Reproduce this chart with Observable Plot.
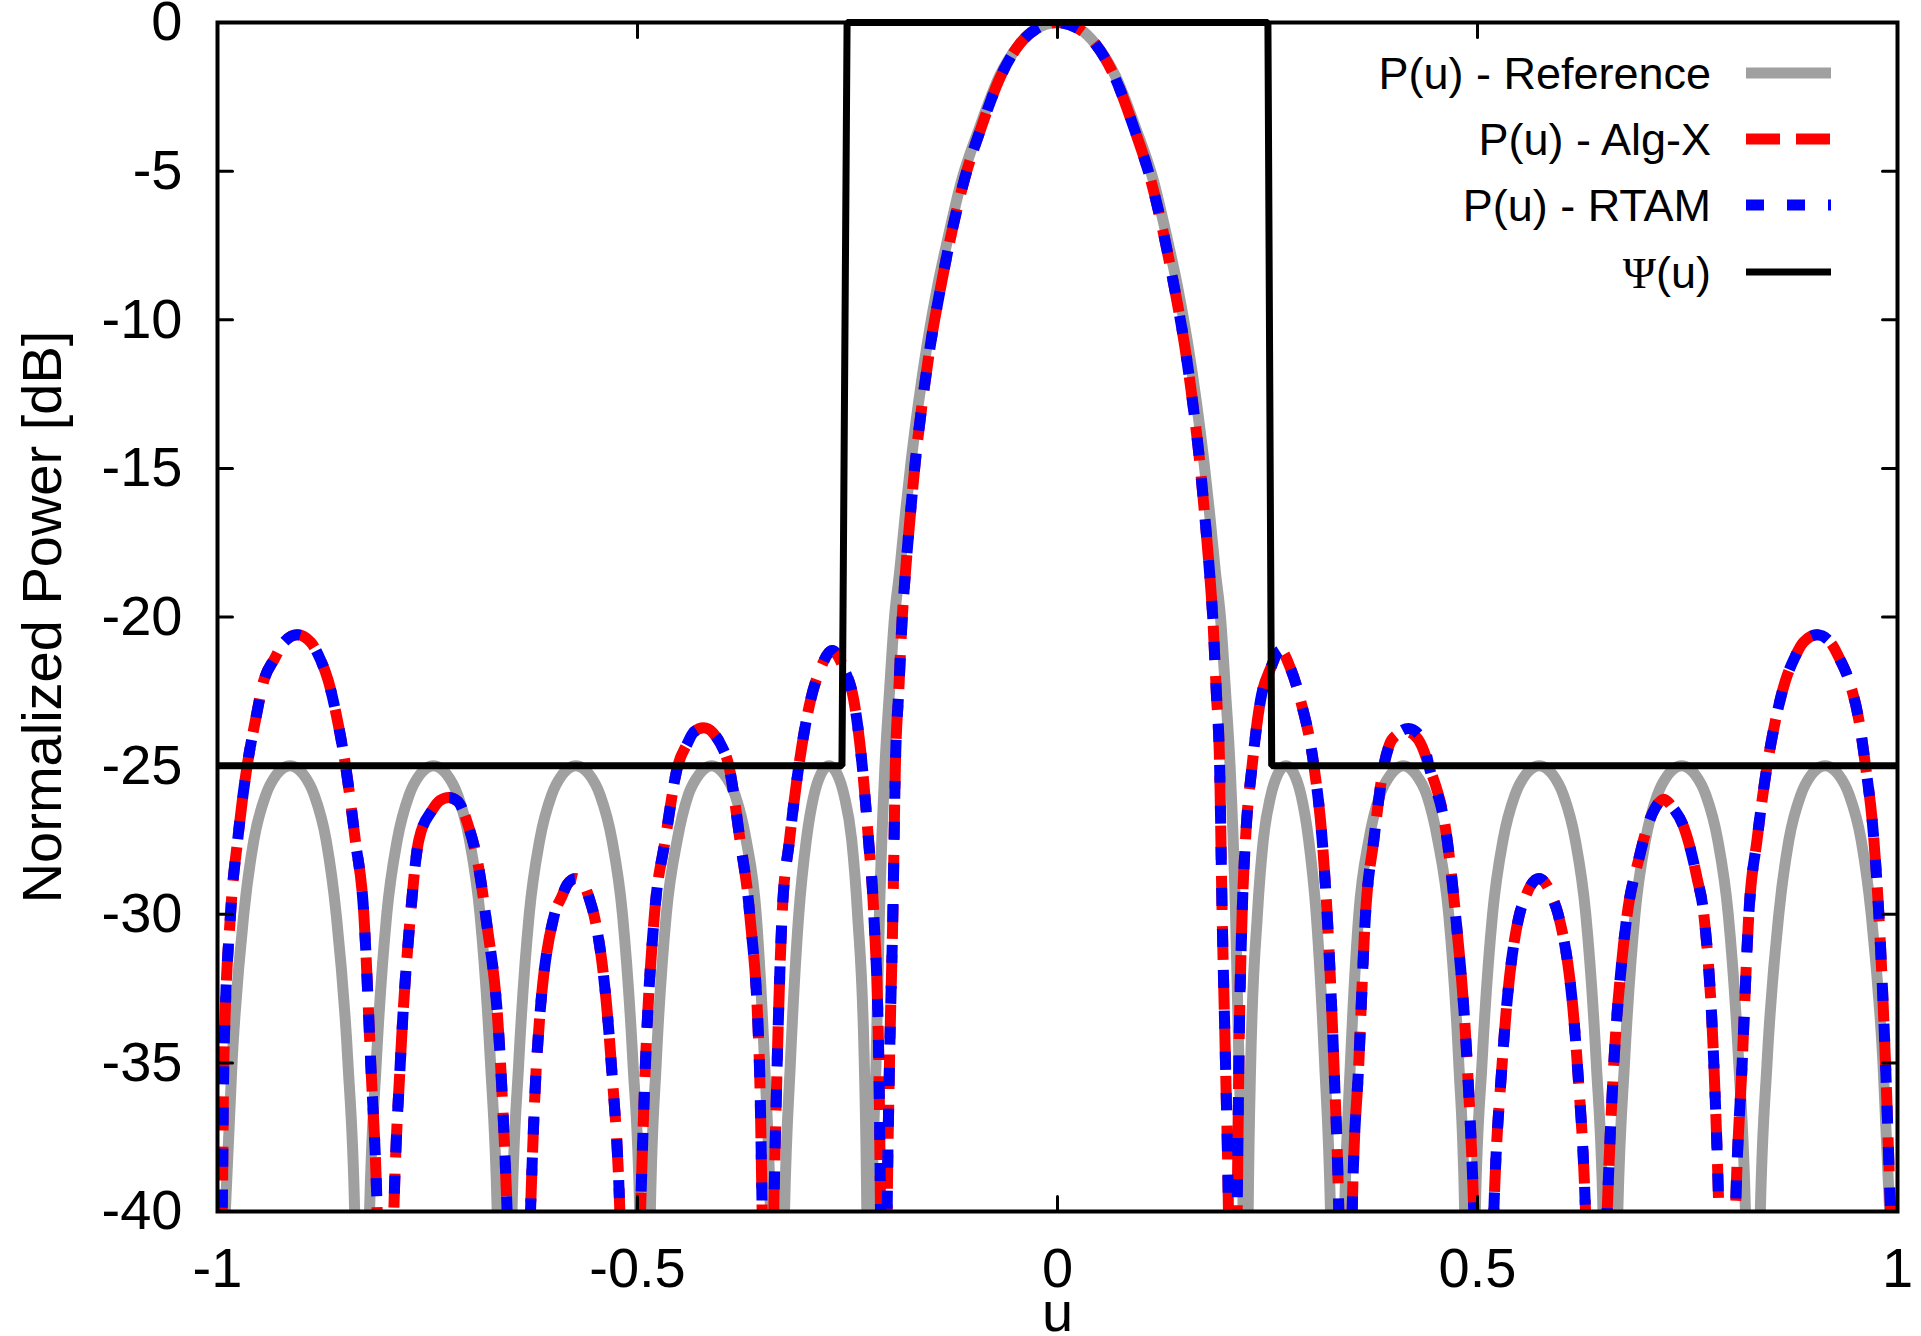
<!DOCTYPE html>
<html>
<head>
<meta charset="utf-8">
<script src="https://cdn.jsdelivr.net/npm/d3@7"></script>
<script src="https://cdn.jsdelivr.net/npm/@observablehq/plot@0.6"></script>
<style>
  html, body { margin: 0; padding: 0; background: #ffffff; }
  #chart svg { display: block; }
</style>
</head>
<body>
<div id="chart"></div>
<script>
// ---------- data ----------
const xTicks = [-1, -0.5, 0, 0.5, 1];
const yTicks = [0, -5, -10, -15, -20, -25, -30, -35, -40];

const legendLabels = ["P(u) - Reference", "P(u) - Alg-X", "P(u) - RTAM", "Ψ(u)"];

// P(u) - Reference (grey)
const refU = [
  -1.0000, -0.9907, -0.9827, -0.9687, -0.9567, -0.9427, -0.9297, -0.9137, -0.8977, -0.8847, -0.8707, -0.8587, -0.8447, -0.8367, -0.8280,
  -0.8190, -0.8110, -0.7985, -0.7860, -0.7720, -0.7590, -0.7430, -0.7270, -0.7140, -0.7000, -0.6875, -0.6750, -0.6670, -0.6580,
  -0.6494, -0.6414, -0.6289, -0.6164, -0.6024, -0.5894, -0.5734, -0.5574, -0.5444, -0.5304, -0.5179, -0.5054, -0.4974, -0.4910,
  -0.4847, -0.4777, -0.4657, -0.4527, -0.4397, -0.4267, -0.4117, -0.3967, -0.3837, -0.3707, -0.3587, -0.3487, -0.3417, -0.3330,
  -0.3250, -0.3180, -0.3080, -0.2990, -0.2900, -0.2820, -0.2720, -0.2620, -0.2540, -0.2450, -0.2380, -0.2300, -0.2270, -0.2235,
  -0.2210, -0.2160, -0.2120, -0.2054, -0.2000, -0.1940, -0.1880, -0.1810, -0.1740, -0.1655, -0.1550, -0.1430, -0.1300, -0.1140,
  -0.0930, -0.0690, -0.0460, -0.0270, 0.0000,
  0.0270, 0.0460, 0.0690, 0.0930, 0.1140, 0.1300, 0.1430, 0.1550, 0.1655, 0.1740, 0.1810, 0.1880, 0.1940, 0.2000,
  0.2054, 0.2120, 0.2160, 0.2210, 0.2235,
  0.2270, 0.2300, 0.2380, 0.2450, 0.2540, 0.2620, 0.2720, 0.2820, 0.2900, 0.2990, 0.3080, 0.3180, 0.3250, 0.3330,
  0.3417, 0.3487, 0.3587, 0.3707, 0.3837, 0.3967, 0.4117, 0.4267, 0.4397, 0.4527, 0.4657, 0.4777, 0.4847, 0.4910,
  0.4974, 0.5054, 0.5179, 0.5304, 0.5444, 0.5574, 0.5734, 0.5894, 0.6024, 0.6164, 0.6289, 0.6414, 0.6494, 0.6580,
  0.6670, 0.6750, 0.6875, 0.7000, 0.7140, 0.7270, 0.7430, 0.7590, 0.7720, 0.7860, 0.7985, 0.8110, 0.8190, 0.8280,
  0.8367, 0.8447, 0.8587, 0.8707, 0.8847, 0.8977, 0.9137, 0.9297, 0.9427, 0.9567, 0.9687, 0.9827, 0.9907, 1.0000
];
const refDb = [
  -47, -40, -35, -30, -27.5, -26, -25.3, -25, -25.3, -26, -27.5, -30, -35, -40, -55,
  -40, -35, -30, -27.5, -26, -25.3, -25, -25.3, -26, -27.5, -30, -35, -40, -55,
  -40, -35, -30, -27.5, -26, -25.3, -25, -25.3, -26, -27.5, -30, -35, -40, -55,
  -40, -35, -30, -27.5, -26, -25.3, -25, -25.3, -26, -27.5, -30, -35, -40, -55,
  -40, -35, -30, -27.5, -26, -25.3, -25, -25.3, -26, -27.5, -30, -35, -40, -55,
  -40, -35, -30, -25, -22.5, -20, -18.5, -16.5, -14.7, -12.8, -10.8, -8.9, -7.2, -5.3,
  -3.55, -1.8, -0.75, -0.23, 0,
  -0.23, -0.75, -1.8, -3.55, -5.3, -7.2, -8.9, -10.8, -12.8, -14.7, -16.5, -18.5, -20, -22.5,
  -25, -30, -35, -40, -55,
  -40, -35, -30, -27.5, -26, -25.3, -25, -25.3, -26, -27.5, -30, -35, -40, -55,
  -40, -35, -30, -27.5, -26, -25.3, -25, -25.3, -26, -27.5, -30, -35, -40, -55,
  -40, -35, -30, -27.5, -26, -25.3, -25, -25.3, -26, -27.5, -30, -35, -40, -55,
  -40, -35, -30, -27.5, -26, -25.3, -25, -25.3, -26, -27.5, -30, -35, -40, -55,
  -40, -35, -30, -27.5, -26, -25.3, -25, -25.3, -26, -27.5, -30, -35, -40, -47
];

// P(u) - Alg-X (red dashed)
const algxU = [
  -1.0000, -0.9944, -0.9925, -0.9845, -0.9760, -0.9647, -0.9548, -0.9448, -0.9320, -0.9210, -0.9050, -0.8890, -0.8780, -0.8683, -0.8573, -0.8476, -0.8360, -0.8258, -0.8176, -0.8099, -0.8000,
  -0.7901, -0.7824, -0.7702, -0.7603, -0.7444, -0.7350, -0.7246, -0.7140, -0.7028, -0.6869, -0.6810, -0.6631, -0.6552, -0.6410,
  -0.6274, -0.6202, -0.5988, -0.5900, -0.5837, -0.5738, -0.5630, -0.5560, -0.5520, -0.5313, -0.5210, -0.5090,
  -0.4964, -0.4905, -0.4798, -0.4670, -0.4520, -0.4409, -0.4329, -0.4210, -0.4100, -0.4012, -0.3913, -0.3780, -0.3664, -0.3549, -0.3516, -0.3446,
  -0.3377, -0.3337, -0.3278, -0.3190, -0.3079, -0.2940, -0.2821, -0.2683, -0.2544, -0.2425, -0.2325, -0.2250, -0.2187, -0.2127, -0.2107, -0.2067,
  -0.2028, -0.2000, -0.1960, -0.1930, -0.1890, -0.1850, -0.1810, -0.1750, -0.1690, -0.1610, -0.1510, -0.1390, -0.1270, -0.1110, -0.0910, -0.0675, -0.0450, -0.0260,
  0.0000,
  0.0260, 0.0450, 0.0675, 0.0910, 0.1110, 0.1270, 0.1390, 0.1510, 0.1610, 0.1690, 0.1750, 0.1810, 0.1850, 0.1890, 0.1930, 0.1960, 0.2000, 0.2035, 0.2085,
  0.2139, 0.2159, 0.2198, 0.2238, 0.2317, 0.2417, 0.2536, 0.2655, 0.2774, 0.2893, 0.3052, 0.3151, 0.3210, 0.3290, 0.3349, 0.3430,
  0.3508, 0.3587, 0.3667, 0.3766, 0.3885, 0.3950, 0.4030, 0.4140, 0.4250, 0.4330, 0.4421, 0.4639, 0.4738, 0.4877, 0.4956, 0.5075,
  0.5194, 0.5294, 0.5500, 0.5560, 0.5630, 0.5730, 0.5830, 0.5900, 0.5960, 0.6187, 0.6286, 0.6410,
  0.6544, 0.6623, 0.6722, 0.6782, 0.6921, 0.7020, 0.7120, 0.7218, 0.7320, 0.7456, 0.7615, 0.7694, 0.7813, 0.7873, 0.7970,
  0.8071, 0.8151, 0.8230, 0.8329, 0.8448, 0.8548, 0.8667, 0.8770, 0.8880, 0.9044, 0.9200, 0.9310, 0.9421, 0.9540, 0.9619, 0.9718, 0.9778, 0.9857, 0.9917, 1.0000
];
const algxDb = [
  -44, -40, -35, -30, -27.5, -25, -23.47, -22.13, -21.4, -20.85, -20.6, -20.85, -21.4, -22.13, -23.47, -25, -27.5, -30, -35, -40, -55,
  -40, -35, -30, -27.5, -26.5, -26.17, -26.07, -26.2, -26.9, -28.8, -30, -35, -40, -55,
  -40, -35, -30, -29.4, -29.0, -28.8, -29.05, -29.6, -30, -35, -40, -55,
  -40, -35, -30, -27.5, -25, -24.27, -23.87, -23.73, -23.9, -24.27, -25, -27.5, -30, -35, -40, -55,
  -40, -35, -30, -27.5, -25, -22.8, -21.73, -21.13, -21.73, -22.8, -25, -27.5, -30, -35, -40, -55,
  -40, -35, -30, -25, -22.5, -20.1, -18.5, -16.5, -14.7, -12.8, -10.8, -8.9, -7.2, -5.3, -3.55, -1.8, -0.72, -0.23,
  0,
  -0.23, -0.72, -1.8, -3.55, -5.3, -7.2, -8.9, -10.8, -12.8, -14.7, -16.5, -18.5, -20.1, -22.5, -25, -30, -35, -40, -55,
  -40, -35, -30, -27.5, -25, -22.8, -21.73, -21.13, -21.73, -22.8, -25, -27.5, -30, -35, -40, -55,
  -40, -35, -30, -27.5, -25, -24.3, -23.98, -23.85, -23.98, -24.3, -25, -27.5, -30, -35, -40, -55,
  -40, -35, -30, -29.5, -29.05, -28.8, -29.05, -29.5, -30, -35, -40, -55,
  -40, -35, -31.47, -30, -28.13, -27.07, -26.4, -26.13, -26.4, -27.07, -28.8, -30, -35, -40, -55,
  -40, -35, -30, -27.47, -25, -23.47, -22.13, -21.4, -20.85, -20.6, -20.85, -21.4, -22.13, -23.47, -25, -27.47, -30, -35, -40, -46
];

// P(u) - RTAM (blue dotted)
const rtamU = [
  -1.0000, -0.9944, -0.9925, -0.9845, -0.9760, -0.9647, -0.9548, -0.9448, -0.9320, -0.9210, -0.9050, -0.8890, -0.8780, -0.8683, -0.8573, -0.8476, -0.8360, -0.8258, -0.8176, -0.8099, -0.8000,
  -0.7901, -0.7824, -0.7702, -0.7603, -0.7444, -0.7350, -0.7246, -0.7140, -0.7028, -0.6869, -0.6810, -0.6631, -0.6552, -0.6410,
  -0.6274, -0.6202, -0.5988, -0.5900, -0.5837, -0.5738, -0.5630, -0.5560, -0.5520, -0.5313, -0.5210, -0.5090,
  -0.4964, -0.4905, -0.4798, -0.4670, -0.4520, -0.4409, -0.4329, -0.4210, -0.4100, -0.4012, -0.3913, -0.3780, -0.3664, -0.3549, -0.3516, -0.3446,
  -0.3377, -0.3337, -0.3278, -0.3190, -0.3079, -0.2940, -0.2821, -0.2683, -0.2544, -0.2425, -0.2325, -0.2250, -0.2187, -0.2127, -0.2107, -0.2067,
  -0.2028, -0.2000, -0.1960, -0.1930, -0.1890, -0.1850, -0.1810, -0.1750, -0.1690, -0.1610, -0.1510, -0.1390, -0.1270, -0.1110, -0.0910, -0.0675, -0.0450, -0.0260,
  0.0000,
  0.0260, 0.0450, 0.0675, 0.0910, 0.1110, 0.1270, 0.1390, 0.1510, 0.1610, 0.1690, 0.1750, 0.1810, 0.1850, 0.1890, 0.1930, 0.1960, 0.2000, 0.2035, 0.2085,
  0.2139, 0.2159, 0.2198, 0.2238, 0.2317, 0.2417, 0.2536, 0.2655, 0.2774, 0.2893, 0.3052, 0.3151, 0.3210, 0.3290, 0.3349, 0.3430,
  0.3508, 0.3587, 0.3667, 0.3766, 0.3885, 0.3960, 0.4060, 0.4180, 0.4290, 0.4360, 0.4421, 0.4639, 0.4738, 0.4877, 0.4956, 0.5075,
  0.5194, 0.5294, 0.5500, 0.5560, 0.5630, 0.5730, 0.5830, 0.5900, 0.5960, 0.6187, 0.6286, 0.6410,
  0.6544, 0.6623, 0.6722, 0.6782, 0.6921, 0.7020, 0.7120, 0.7218, 0.7320, 0.7456, 0.7615, 0.7694, 0.7813, 0.7873, 0.7970,
  0.8071, 0.8151, 0.8230, 0.8329, 0.8448, 0.8548, 0.8667, 0.8770, 0.8880, 0.9044, 0.9200, 0.9310, 0.9421, 0.9540, 0.9619, 0.9718, 0.9778, 0.9857, 0.9917, 1.0000
];
const rtamDb = [
  -44, -40, -35, -30, -27.5, -25, -23.47, -22.13, -21.4, -20.85, -20.6, -20.85, -21.4, -22.13, -23.47, -25, -27.5, -30, -35, -40, -55,
  -40, -35, -30, -27.5, -26.5, -26.17, -26.07, -26.2, -26.9, -28.8, -30, -35, -40, -55,
  -40, -35, -30, -29.4, -29.0, -28.8, -29.05, -29.6, -30, -35, -40, -55,
  -40, -35, -30, -27.5, -25, -24.27, -23.87, -23.73, -23.9, -24.27, -25, -27.5, -30, -35, -40, -55,
  -40, -35, -30, -27.5, -25, -22.8, -21.73, -21.13, -21.73, -22.8, -25, -27.5, -30, -35, -40, -55,
  -40, -35, -30, -25, -22.5, -20.1, -18.5, -16.5, -14.7, -12.8, -10.8, -8.9, -7.2, -5.3, -3.55, -1.8, -0.72, -0.23,
  0,
  -0.23, -0.72, -1.8, -3.55, -5.3, -7.2, -8.9, -10.8, -12.8, -14.7, -16.5, -18.5, -20.1, -22.5, -25, -30, -35, -40, -55,
  -40, -35, -30, -27.5, -25, -22.8, -21.73, -21.13, -21.73, -22.8, -25, -27.5, -30, -35, -40, -55,
  -40, -35, -30, -27.5, -25, -24.25, -23.9, -23.75, -23.92, -24.25, -25, -27.5, -30, -35, -40, -55,
  -40, -35, -30, -29.5, -29.05, -28.8, -29.05, -29.5, -30, -35, -40, -55,
  -40, -35, -31.47, -30, -28.13, -27.07, -26.4, -26.13, -26.4, -27.07, -28.8, -30, -35, -40, -55,
  -40, -35, -30, -27.47, -25, -23.47, -22.13, -21.4, -20.85, -20.6, -20.85, -21.4, -22.13, -23.47, -25, -27.47, -30, -35, -40, -46
];

// Ψ(u) mask (black)
const psiU = [-1, -0.2566, -0.2505, 0.2505, 0.2550, 1];
const psiDb = [-25, -25, 0, 0, -25, -25];

// ---------- tables for Plot ----------
const toRows = (us, dbs) => us.map((u, i) => ({u, db: dbs[i]}));
const ref = toRows(refU, refDb);
const algx = toRows(algxU, algxDb);
const rtam = toRows(rtamU, rtamDb);
const psi = toRows(psiU, psiDb);

// ---------- styles ----------
const FONT = '"Liberation Sans", Arial, Helvetica, sans-serif';
const styles = [
  {stroke: "#a0a0a0", strokeWidth: 11, strokeDasharray: null},
  {stroke: "#ff0000", strokeWidth: 11, strokeDasharray: "34,16"},
  {stroke: "#0000ff", strokeWidth: 11, strokeDasharray: "18,23"},
  {stroke: "#000000", strokeWidth: 7, strokeDasharray: null}
];
const tickShape = {draw(ctx, l) { ctx.moveTo(0, 0); ctx.lineTo(0, -l); }};
const tickLen = 15;
const tickStyle = {length: tickLen, anchor: "start", shape: tickShape, stroke: "black", strokeWidth: 3};

const lineOpts = (s) => ({x: "u", y: "db", curve: "monotone-x", clip: true,
  stroke: s.stroke, strokeWidth: s.strokeWidth, strokeDasharray: s.strokeDasharray,
  strokeLinecap: "butt", strokeLinejoin: "round"});

const chart = Plot.plot({
  width: 1921,
  height: 1336,
  marginLeft: 217,
  marginRight: 24,
  marginTop: 22,
  marginBottom: 125,
  style: {fontFamily: FONT, fontSize: "56px", background: "#ffffff", color: "#000000", overflow: "visible"},
  x: {domain: [-1, 1]},
  y: {domain: [-40, 0]},
  marks: [
    Plot.line(ref, lineOpts(styles[0])),
    Plot.line(algx, lineOpts(styles[1])),
    Plot.line(rtam, lineOpts(styles[2])),
    Plot.line(psi, {x: "u", y: "db", stroke: styles[3].stroke, strokeWidth: styles[3].strokeWidth, strokeLinecap: "butt", strokeLinejoin: "miter"}),
    Plot.frame({stroke: "black", strokeWidth: 4}),
    Plot.vector(xTicks, {x: d => d, frameAnchor: "bottom", rotate: 0, ...tickStyle}),
    Plot.vector(xTicks, {x: d => d, frameAnchor: "top", rotate: 180, ...tickStyle}),
    Plot.vector(yTicks, {y: d => d, frameAnchor: "left", rotate: 90, ...tickStyle}),
    Plot.vector(yTicks, {y: d => d, frameAnchor: "right", rotate: -90, ...tickStyle}),
    Plot.axisX({ticks: xTicks, tickSize: 0, tickPadding: 36, tickFormat: d => String(d), label: null, fontSize: 56}),
    Plot.axisY({ticks: yTicks, tickSize: 0, tickPadding: 35, tickFormat: d => String(d), label: null, fontSize: 56}),
    Plot.text(["Normalized Power [dB]"], {frameAnchor: "left", dx: -157, rotate: -90, lineAnchor: "bottom", textAnchor: "middle", fontSize: 56}),
    Plot.text(["u"], {frameAnchor: "bottom", dy: 119, lineAnchor: "bottom", textAnchor: "middle", fontSize: 56})
  ]
});

// ---------- in-frame key (top right) ----------
const svg = d3.select(chart);
const key = svg.append("g").attr("font-family", FONT).attr("font-size", 45).attr("fill", "black");
const keyRowsY = [73, 139, 205, 272];
const keyTextRight = 1711, keyLineX1 = 1746, keyLineX2 = 1831;
legendLabels.forEach((lab, i) => {
  const y = keyRowsY[i];
  const t = key.append("text").attr("x", keyTextRight).attr("y", y).attr("dy", "0.36em").attr("text-anchor", "end");
  if (lab.startsWith("Ψ")) {
    t.append("tspan").attr("font-family", '"Liberation Serif", "DejaVu Serif", serif').text("Ψ");
    t.append("tspan").text(lab.slice(1));
  } else {
    t.text(lab);
  }
  const s = styles[i];
  const ln = key.append("line").attr("x1", keyLineX1).attr("x2", keyLineX2).attr("y1", y).attr("y2", y)
    .attr("stroke", s.stroke).attr("stroke-width", s.strokeWidth).attr("stroke-linecap", "butt");
  if (s.strokeDasharray) ln.attr("stroke-dasharray", s.strokeDasharray);
});

document.getElementById("chart").appendChild(chart);
</script>
</body>
</html>
